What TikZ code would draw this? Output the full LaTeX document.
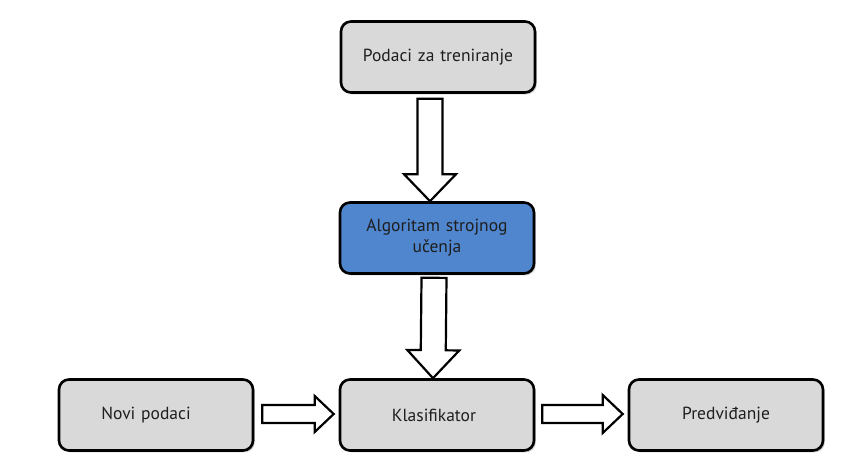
\documentclass[tikz,border=0pt]{standalone}
\usepackage{fontspec}
\setmainfont{PT Sans}
\usepackage{xcolor}
\usetikzlibrary{positioning,calc,shadows}
\definecolor{boxgray}{RGB}{217,217,217}
\definecolor{algoblue}{RGB}{79,134,206}
\definecolor{textdark}{RGB}{30,30,30}

% hollow block arrow: start, tip, shaft half width, head half width, head length
\newcommand{\blockarrow}[5]{%
    \coordinate (ba-h) at ($(#2)!#5!(#1)$);
    \draw[arrowbody] ($(#1)!#3!90:(#2)$) -- ($(ba-h)!#3!90:(#2)$)
        -- ($(ba-h)!#4!90:(#2)$) -- (#2) -- ($(ba-h)!#4!-90:(#2)$)
        -- ($(ba-h)!#3!-90:(#2)$) -- ($(#1)!#3!-90:(#2)$) -- cycle;
}

\begin{document}
\begin{tikzpicture}[
        x=1pt, y=1pt,
        font=\fontsize{17.5}{21}\selectfont,
        stagebox/.style={rectangle, rounded corners=10pt, draw=black, line width=2.6pt,
            fill=boxgray, text=textdark, minimum width=194pt, minimum height=71pt,
            align=center, text width=180pt,
            drop shadow={shadow xshift=1.8pt, shadow yshift=-1.8pt, opacity=0.4}},
        arrowbody/.style={draw=black, line width=2.2pt, fill=white, line join=miter}
    ]
        \useasboundingbox (0,0) rectangle (859,455);

        \node[stagebox] (train) at (438,398) {Podaci za treniranje};
        \node[stagebox, fill=algoblue] (algo) at (437,217) {Algoritam strojnog\\ učenja};
        \node[stagebox] (klas) at (437,40) {Klasifikator\hspace*{6pt}};
        \node[stagebox] (novi) at (156,40) {Novi podaci\hspace*{20pt}};
        \node[stagebox] (pred) at (726,40) {Predviđanje};

        \coordinate (a1s) at ($(train.south)+(-8,-5)$);
        \coordinate (a1t) at ($(algo.north)+(-7,0)$);
        \coordinate (a2s) at ($(algo.south)+(-3,-3)$);
        \coordinate (a2t) at ($(klas.north)+(-4,0)$);
        \coordinate (a3s) at ($(novi.east)+(8,1)$);
        \coordinate (a3t) at ($(klas.west)+(-5,1)$);
        \coordinate (a4s) at ($(klas.east)+(7,1)$);
        \coordinate (a4t) at ($(pred.west)+(-5,1)$);

        \blockarrow{a1s}{a1t}{12.5pt}{26pt}{27pt}
        \blockarrow{a2s}{a2t}{12.5pt}{26pt}{28pt}
        \blockarrow{a3s}{a3t}{9pt}{18pt}{19pt}
        \blockarrow{a4s}{a4t}{9pt}{19pt}{20pt}
    \end{tikzpicture}
\end{document}
